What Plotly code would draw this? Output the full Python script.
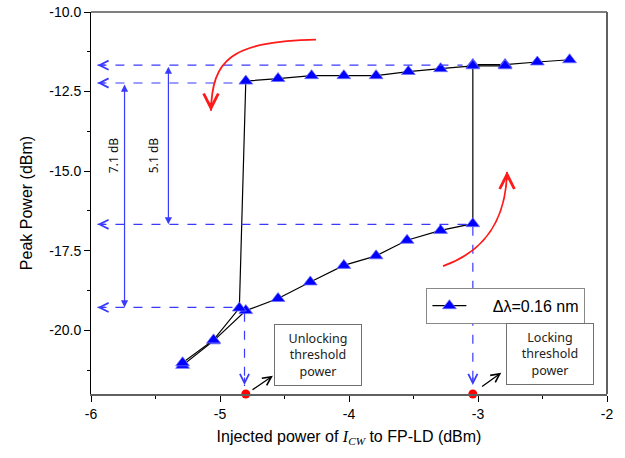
import plotly.graph_objects as go

# ---------------- data ----------------
# forward sweep (increasing injected power)
fwd_x = [-5.29, -5.05, -4.80, -4.55, -4.30, -4.04, -3.79, -3.55, -3.29, -3.04, -3.04, -2.79, -2.54, -2.29]
fwd_y = [-21.10, -20.33, -19.38, -19.00, -18.48, -17.96, -17.66, -17.17, -16.86, -16.65, -11.65, -11.65, -11.57, -11.50]
# backward sweep (decreasing injected power)
bwd_x = [-2.79, -3.04, -3.29, -3.54, -3.79, -4.04, -4.29, -4.55, -4.80, -4.85, -5.05, -5.29]
bwd_y = [-11.69, -11.69, -11.78, -11.87, -12.00, -12.00, -12.00, -12.09, -12.17, -19.30, -20.30, -21.02]

legend_name = "Δλ=0.16 nm"
threshold_x = [-4.80, -3.04]      # unlocking / locking threshold powers
threshold_labels = ["Unlocking<br>threshold<br>power", "Locking<br>threshold<br>power"]
diff_labels = ["7.1 dB", "5.1 dB"]

x_ticks = [-6, -5, -4, -3, -2]
y_ticks = [-20.0, -17.5, -15.0, -12.5, -10.0]

# ---------------- figure ----------------
fig = go.Figure()

line_style = dict(color="black", width=1.2)
marker_style = dict(symbol="triangle-up", size=12, color="#0000ff",
                    line=dict(color="#6f6fff", width=0.8))

fig.add_trace(go.Scatter(x=fwd_x, y=fwd_y, mode="lines+markers", name="     " + legend_name,
                         line=line_style, marker=marker_style, showlegend=True))
fig.add_trace(go.Scatter(x=bwd_x, y=bwd_y, mode="lines+markers", name=legend_name,
                         line=line_style, marker=marker_style, showlegend=False))

# red dots at threshold positions on the x axis
fig.add_trace(go.Scatter(x=threshold_x, y=[-22, -22], mode="markers",
                         marker=dict(color="#ff0000", size=9), showlegend=False,
                         cliponaxis=False, hoverinfo="skip"))

BLUE = "#3a3aff"
x_left = -5.95
lvl_hi_lock = fwd_y[10]     # upper level at locking
lvl_hi_unlock = bwd_y[8]    # upper level at unlocking
lvl_lo_lock = fwd_y[9]      # lower level at locking
lvl_lo_unlock = bwd_y[9]    # lower level at unlocking

shapes = []
def dline(x0, y0, x1, y1):
    shapes.append(dict(type="line", xref="x", yref="y", x0=x0, y0=y0, x1=x1, y1=y1,
                       line=dict(color=BLUE, width=1.2, dash="dash")))

dline(x_left, lvl_hi_lock - 0.02, -3.12, lvl_hi_lock - 0.02)
dline(x_left, lvl_hi_unlock - 0.06, -4.86, lvl_hi_unlock - 0.06)
dline(x_left, lvl_lo_lock - 0.02, -3.08, lvl_lo_lock - 0.02)
dline(x_left, lvl_lo_unlock + 0.02, -4.88, lvl_lo_unlock + 0.02)
dline(threshold_x[0] - 0.01, -19.45, threshold_x[0] - 0.01, -21.75)
dline(threshold_x[1], -16.75, threshold_x[1], -21.75)

# red curved arrows
RED = "#ff1a1a"
shapes.append(dict(type="path", xref="x", yref="y",
                   path="M -4.256,-10.868 C -4.92,-10.93 -5.06,-11.5 -5.07,-13.10",
                   line=dict(color=RED, width=1.8)))
shapes.append(dict(type="path", xref="x", yref="y",
                   path="M -3.271,-17.985 C -2.907,-17.452 -2.783,-16.355 -2.775,-15.03",
                   line=dict(color=RED, width=1.8)))

# frame: top (black) and right (gray)
shapes.append(dict(type="line", xref="paper", yref="paper", x0=0, y0=1, x1=1, y1=1,
                   line=dict(color="black", width=1)))
shapes.append(dict(type="line", xref="paper", yref="paper", x0=1, y0=0, x1=1, y1=1,
                   line=dict(color="#606060", width=2)))

annotations = []
def head(x, y, ax, ay, color=BLUE, size=1.5, width=1.2, headtype=5):
    annotations.append(dict(x=x, y=y, xref="x", yref="y", ax=ax, ay=ay, text="",
                            showarrow=True, arrowhead=headtype, arrowsize=size,
                            arrowwidth=width, arrowcolor=color))

# open arrowheads at the ends of dashed lines
head(x_left, lvl_hi_lock - 0.02, 9, 0)
head(x_left, lvl_hi_unlock - 0.06, 9, 0)
head(x_left, lvl_lo_lock - 0.02, 9, 0)
head(x_left, lvl_lo_unlock + 0.02, 9, 0)
head(threshold_x[0] - 0.01, -21.72, 0, -9)
head(threshold_x[1], -21.72, 0, -9)

# red arrowheads
head(-5.07, -13.12, 0, -10, color=RED, size=1.6, width=1.8)
head(-2.775, -15.0, 0, 10, color=RED, size=1.6, width=1.8)

# double-headed difference arrows
for xa, ytop, ybot in [(-5.74, lvl_hi_unlock - 0.06, lvl_lo_unlock + 0.02),
                       (-5.40, lvl_hi_lock - 0.02, lvl_lo_lock - 0.02)]:
    annotations.append(dict(x=xa, y=ybot, xref="x", yref="y", axref="x", ayref="y",
                            ax=xa, ay=ytop, text="", showarrow=True, arrowhead=2,
                            startarrowhead=2, arrowside="end+start", arrowsize=1.2,
                            startarrowsize=1.2, arrowwidth=1.2, arrowcolor=BLUE))

annotations.append(dict(x=-5.83, y=-14.5, xref="x", yref="y", text=diff_labels[0],
                        showarrow=False, textangle=-90,
                        font=dict(family="Noto Sans", size=12, color="#111")))
annotations.append(dict(x=-5.52, y=-14.5, xref="x", yref="y", text=diff_labels[1],
                        showarrow=False, textangle=-90,
                        font=dict(family="Noto Sans", size=12, color="#111")))

# black small arrows to text boxes
for x0, y0, x1, y1 in [(-4.76, -21.9, -4.59, -21.43), (-2.98, -21.8, -2.82, -21.33)]:
    annotations.append(dict(x=x1, y=y1, xref="x", yref="y", axref="x", ayref="y",
                            ax=x0, ay=y0, text="", showarrow=True, arrowhead=5,
                            arrowsize=1.3, arrowwidth=1.3, arrowcolor="black"))

# threshold text boxes
for xc, yc, txt in [(-4.24, -20.79, threshold_labels[0]), (-2.44, -20.73, threshold_labels[1])]:
    annotations.append(dict(x=xc, y=yc, xref="x", yref="y", text=txt, showarrow=False,
                            bordercolor="#707070", borderwidth=1, borderpad=5,
                            width=76, bgcolor="white",
                            font=dict(family="Noto Sans", size=12.5, color="#222")))

fig.update_layout(
    width=625, height=458,
    margin=dict(l=91, r=18, t=12, b=64),
    paper_bgcolor="white", plot_bgcolor="white",
    font=dict(family="Liberation Sans, Arial, sans-serif", size=14, color="black"),
    shapes=shapes, annotations=annotations,
    legend=dict(x=0.65, y=0.278, xanchor="left", yanchor="top",
                bordercolor="#888888", borderwidth=1, bgcolor="white",
                font=dict(family="Liberation Sans, Arial", size=16),
                tracegroupgap=0, itemwidth=34),
)

fig.update_xaxes(range=[-6, -2], tickvals=x_ticks, ticktext=[str(v) for v in x_ticks],
                 ticks="outside", ticklen=6, tickwidth=1, tickcolor="black",
                 minor=dict(dtick=0.5, ticks="outside", ticklen=3, tickcolor="black"),
                 showline=True, linecolor="#606060", linewidth=2, showgrid=False,
                 zeroline=False, tickfont=dict(size=14), automargin=False,
                 title=dict(text="Injected power of <span style=\"font-family:'Liberation Serif'\"><i>I</i><sub><i>CW</i></sub></span> to FP-LD (dBm)",
                            font=dict(size=16), standoff=10))
fig.update_yaxes(range=[-22, -10], tickvals=y_ticks, ticktext=[f"{v:.1f}" for v in y_ticks],
                 ticks="outside", ticklen=6, tickwidth=1, tickcolor="black",
                 minor=dict(dtick=1.25, ticks="outside", ticklen=3, tickcolor="black"),
                 showline=True, linecolor="black", linewidth=1, showgrid=False,
                 zeroline=False, tickfont=dict(size=14), automargin=False,
                 title=dict(text="Peak Power (dBm)", font=dict(size=16), standoff=12))

fig.write_html("out.html", config={"displayModeBar": False},
               post_script="document.body.style.margin='0';document.body.style.overflow='hidden';")
